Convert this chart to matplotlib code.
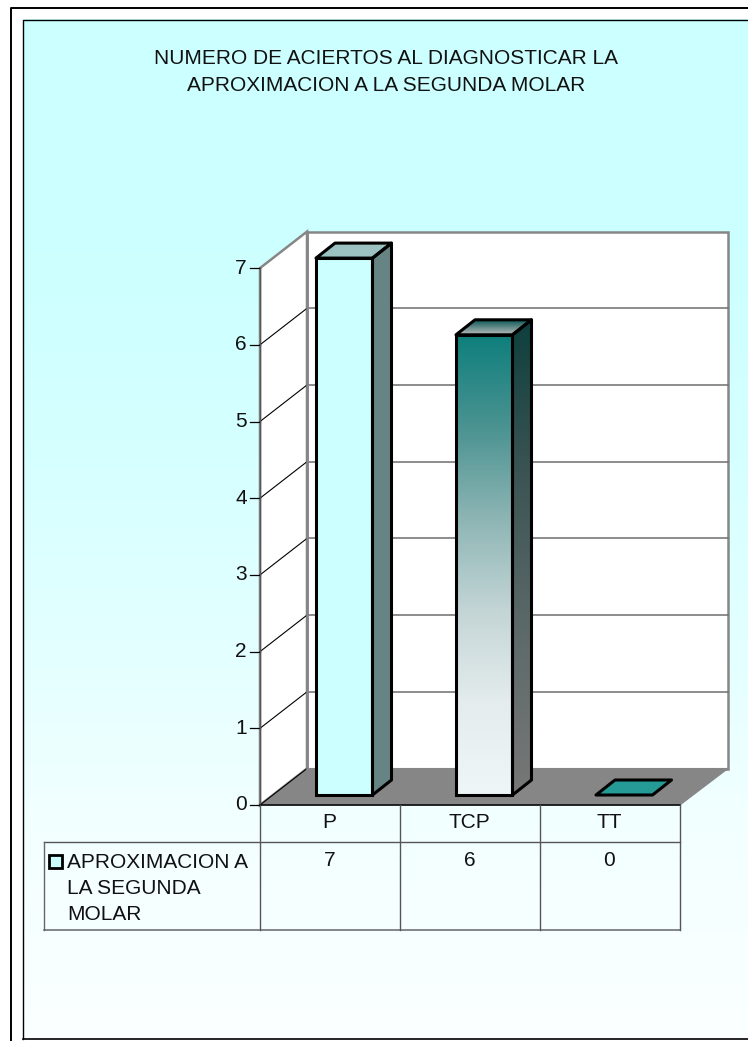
import numpy as np
import matplotlib
matplotlib.use("Agg")
import matplotlib.pyplot as plt
from matplotlib.colors import LinearSegmentedColormap
from matplotlib.patches import Polygon, Rectangle

plt.rcParams['font.family'] = ['Liberation Sans', 'DejaVu Sans']

# DATA
categories = ["P", "TCP", "TT"]
values = [7, 6, 0]
yticks = [0, 1, 2, 3, 4, 5, 6, 7]
series_name = "APROXIMACION A\nLA SEGUNDA\nMOLAR"
title = "NUMERO DE ACIERTOS AL DIAGNOSTICAR LA\nAPROXIMACION A LA SEGUNDA MOLAR"

W, H = 748, 1041
FS = 15

# pixel layout
x0, x1 = 260, 680
y0, unit = 805, 76.7
dx_wall, dy_wall = 47, 36.5
dx_bar, dy_bar = 19, 15
bar_w = 56.5
cell_w = (x1 - x0) / len(categories)
GREY = "#868686"


def val_y(v):
    return y0 - v * unit


fig = plt.figure(figsize=(W / 100, H / 100), dpi=100)
ax = fig.add_axes([0, 0, 1, 1])
ax.set_xlim(0, W)
ax.set_ylim(H, 0)
ax.axis("off")


def vgrad(x_a, x_b, y_a, y_b, colors, clip=None, z=1):
    cmap = LinearSegmentedColormap.from_list("g", colors)
    im = ax.imshow(np.linspace(0, 1, 256).reshape(-1, 1), cmap=cmap, aspect="auto",
                   extent=(x_a, x_b, y_b, y_a), zorder=z, interpolation="bilinear")
    if clip is not None:
        im.set_clip_path(clip)
    return im


# FRAME AND BACKGROUND
vgrad(23, W, 19, 1039, ["#CCFFFF", "#CCFFFF", "#D4FFFF", "#E2FFFF", "#F3FFFF", "#FBFFFF"])
ax.set_xlim(0, W)
ax.set_ylim(H, 0)
ax.plot([11.5, 11.5, W], [H, 7.5, 7.5], color="black", lw=1.4, zorder=2)
ax.plot([23, 23, W], [1038.5, 19.5, 19.5], color="black", lw=1.0, zorder=2)
ax.plot([23, W], [1038.5, 1038.5], color="black", lw=1.2, zorder=2)

# WALLS AND FLOOR
ytop = val_y(7)
ax.add_patch(Polygon([(x0 + dx_wall, ytop - dy_wall), (W - 20, ytop - dy_wall),
                      (W - 20, y0 - dy_wall), (x0 + dx_wall, y0 - dy_wall)],
                     fc="white", ec=GREY, lw=1.8, zorder=3))
ax.add_patch(Polygon([(x0, ytop), (x0 + dx_wall, ytop - dy_wall),
                      (x0 + dx_wall, y0 - dy_wall), (x0, y0)],
                     fc="white", ec=GREY, lw=1.8, zorder=3))
ax.add_patch(Polygon([(x0, y0), (x0 + dx_wall, y0 - dy_wall), (W - 20, y0 - dy_wall), (x1, y0)],
                     fc=GREY, ec=GREY, lw=0.8, zorder=3))

for t in yticks:
    y = val_y(t)
    if t > 0 and t < 7:
        ax.plot([x0 + dx_wall, W - 20], [y - dy_wall, y - dy_wall], color="#6e6e6e", lw=1.1, zorder=4)
    if t < 7:
        ax.plot([x0, x0 + dx_wall], [y, y - dy_wall], color="black", lw=0.8, zorder=4)
    ax.plot([x0 - 10, x0], [y, y], color="black", lw=0.9, zorder=5)
    ax.text(x0 - 13, y, str(t), ha="right", va="center", fontsize=FS, color="#111111", zorder=6)
ax.plot([x0, x0], [val_y(7), y0], color="#555555", lw=1.0, zorder=5)
ax.plot([x0 + dx_wall, x0 + dx_wall], [val_y(7) - dy_wall, y0 - dy_wall], color=GREY, lw=1.8, zorder=4)

# BARS
bar_styles = [
    (["#CCFFFF", "#CCFFFF"], ["#9CC2C2", "#9CC2C2"], ["#678484", "#678484"]),
    (["#0E7F7C", "#4A9391", "#8DB5B4", "#C4D5D6", "#E4ECED", "#EFF6F8"],
     ["#0E5A58", "#BDBDBD"], ["#0E3F3D", "#3C5554", "#5E6A6A", "#777777"]),
    (["#259B97", "#259B97"], ["#259B97", "#259B97"], ["#259B97", "#259B97"]),
]
bottom = y0 - 10
for i, v in enumerate(values):
    left = x0 + cell_w * i + 56
    right = left + bar_w
    top = bottom - v * unit
    front_c, top_c, side_c = bar_styles[i]
    top_pts = [(left, top), (left + dx_bar, top - dy_bar), (right + dx_bar, top - dy_bar), (right, top)]
    side_pts = [(right, top), (right + dx_bar, top - dy_bar), (right + dx_bar, bottom - dy_bar), (right, bottom)]
    front = Rectangle((left, top), bar_w, v * unit, fc="none", ec="none", transform=ax.transData, zorder=7)
    ax.add_patch(front)
    top_p = Polygon(top_pts, fc="none", ec="none", zorder=7)
    ax.add_patch(top_p)
    if v > 0:
        vgrad(left, right, top, bottom, front_c, clip=front, z=7)
        side_p = Polygon(side_pts, fc="none", ec="none", zorder=7)
        ax.add_patch(side_p)
        vgrad(right, right + dx_bar, top - dy_bar, bottom, side_c, clip=side_p, z=7)
    vgrad(left, right + dx_bar, top - dy_bar, top, top_c, clip=top_p, z=7)
    if v > 0:
        ax.add_patch(Polygon(side_pts, fc="none", ec="black", lw=2.2, zorder=8, joinstyle="round"))
        ax.add_patch(Rectangle((left, top), bar_w, v * unit, fc="none", ec="black", lw=2.2, zorder=8))
    ax.add_patch(Polygon(top_pts, fc="none", ec="black", lw=2.2, zorder=8, joinstyle="round"))
ax.set_xlim(0, W)
ax.set_ylim(H, 0)

# DATA TABLE
row_a, row_b = 842, 930
leg_x = 44
ax.plot([x0, x1], [y0, y0], color="black", lw=1.1, zorder=5)
ax.plot([leg_x, x1], [row_a, row_a], color="#555555", lw=1.0, zorder=5)
ax.plot([leg_x, x1], [row_b, row_b], color="#666666", lw=1.1, zorder=5)
ax.plot([leg_x, leg_x], [row_a, row_b], color="#666666", lw=1.0, zorder=5)
for i in range(len(categories) + 1):
    x = x0 + cell_w * i
    ax.plot([x, x], [y0, row_b], color="#555555", lw=1.0, zorder=5)
for i, (c, v) in enumerate(zip(categories, values)):
    xc = x0 + cell_w * (i + 0.5) - 0.5
    ax.text(xc, 823, c, ha="center", va="center", fontsize=FS, color="#111111", zorder=6)
    ax.text(xc, 860, str(v), ha="center", va="center", fontsize=FS, color="#111111", zorder=6)
ax.add_patch(Rectangle((49, 855), 13, 12.5, fc=bar_styles[0][0][0], ec="black", lw=2.0, zorder=6))
ax.text(67, 888.5, series_name, ha="left", va="center", fontsize=FS, color="#111111",
        linespacing=1.47, zorder=6)

# TITLE
ax.text(386.5, 72, title, ha="center", va="center", fontsize=FS, color="#111111",
        linespacing=1.47, zorder=6)

fig.savefig("out.png", dpi=100)
